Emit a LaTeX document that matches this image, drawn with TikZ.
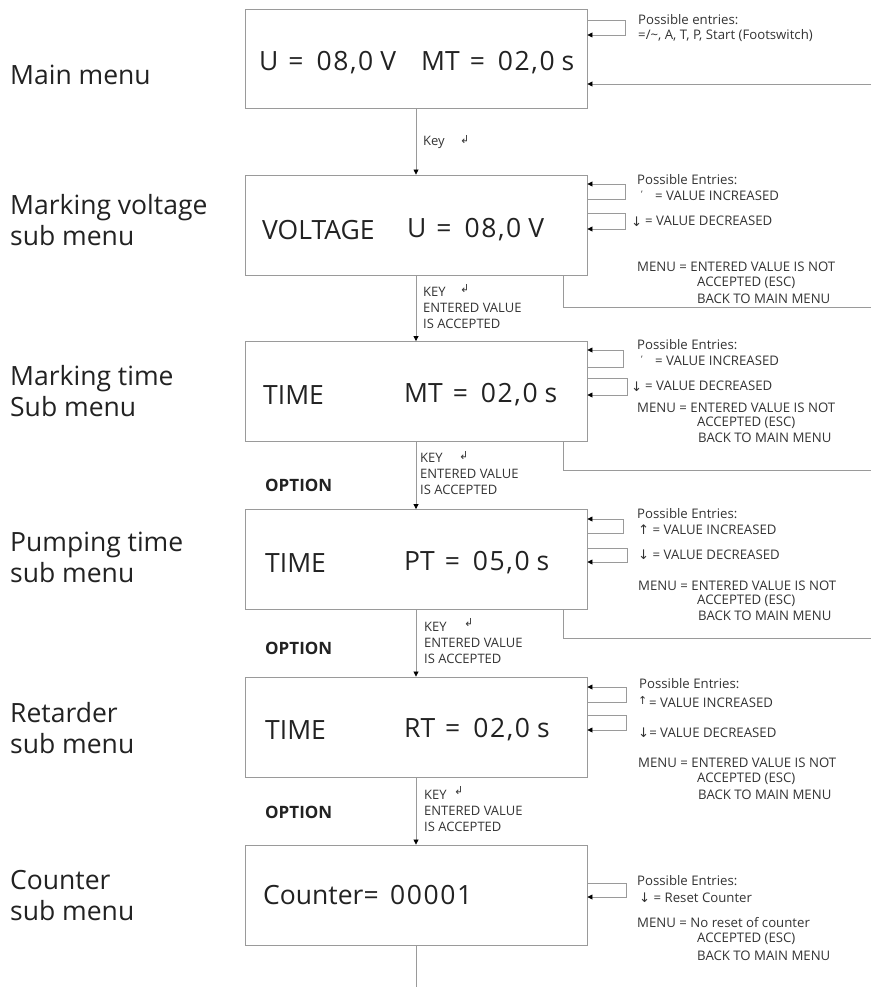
\documentclass[tikz,border=0pt]{standalone}
\usepackage{fontspec}
\setmainfont{Open Sans}
\newfontfamily\symfont{DejaVu Sans}
\usetikzlibrary{arrows.meta}
\definecolor{linegray}{HTML}{9A9A9A}
\definecolor{txt}{HTML}{222222}
\definecolor{smalltxt}{HTML}{333333}
\newcommand{\retkey}{{\symfont\fontsize{11}{11}\selectfont ↲}}
\newcommand{\up}{{\symfont ↑}}
\newcommand{\down}{{\symfont ↓}}
% display readout: name = value unit
\newcommand{\digits}[1]{{\addfontfeature{LetterSpace=6}#1}}
\newcommand{\readout}[3]{#1\hspace{10pt}=\hspace{13pt}\digits{#2}\hspace{7pt}#3}

\begin{document}
\begin{tikzpicture}[x=1pt,y=-1pt,
  box/.style={draw=linegray,line width=0.9pt,minimum width=342pt,minimum height=100pt,inner sep=0pt},
  wire/.style={draw=linegray,line width=0.8pt},
  tip/.style={-{Triangle[length=5pt,width=5pt,color=black]}},
  big/.style={font={\fontsize{26.5}{30}\selectfont},text=txt,anchor=west,inner sep=0pt},
  side/.style={font={\fontsize{26.5}{31}\selectfont},text=txt,anchor=west,align=left,inner sep=0pt},
  note/.style={font={\fontsize{13.2}{15}\selectfont},text=smalltxt,anchor=west,inner sep=0pt},
  tick/.style={font={\fontsize{9}{9}\selectfont},text=smalltxt,anchor=west,inner sep=0pt},
  keylab/.style={font={\fontsize{13}{16}\selectfont},text=smalltxt,anchor=west,align=left,inner sep=0pt},
  opt/.style={font={\bfseries\fontsize{17}{20}\selectfont},text=txt,anchor=west,inner sep=0pt}]

\useasboundingbox (0,0) rectangle (871,987);

% ---------- menu boxes ----------
\node[box,minimum height=99pt] (b1) at (416,58.5) {};
\node[box] (b2) at (416,225) {};
\node[box] (b3) at (416,391.5) {};
\node[box] (b4) at (416,559.5) {};
\node[box] (b5) at (416,727) {};
\node[box] (b6) at (416,895) {};

% ---------- display contents ----------
\node[big] (u1)  at (259,63)  {\readout{U}{08,0}{V}};
\node[big] (mt1) at (421,63)  {\readout{MT}{02,0}{s}};
\node[big] (v2)  at (262,230) {VOLTAGE};
\node[big] (u2)  at (407,230) {\readout{U}{08,0}{V}};
\node[big] (t3)  at (263,395) {TIME};
\node[big] (mt3) at (404,395) {\readout{MT}{02,0}{s}};
\node[big] (t4)  at (265,563) {TIME};
\node[big] (pt4) at (404,563) {\readout{PT}{05,0}{s}};
\node[big] (t5)  at (265,730) {TIME};
\node[big] (rt5) at (404,730) {\readout{RT}{02,0}{s}};
\node[big] (c6)  at (263,895) {Counter=};
\node[big] (n6)  at (390,895) {\digits{00001}};

% ---------- menu names ----------
\node[side] (s1) at (10,75)  {Main menu};
\node[side] (s2) at (10,220) {Marking voltage\\sub menu};
\node[side] (s3) at (10,391) {Marking time\\Sub menu};
\node[side] (s4) at (10,557) {Pumping time\\sub menu};
\node[side] (s5) at (10,728) {Retarder\\sub menu};
\node[side] (s6) at (10,896) {Counter\\sub menu};

% ---------- main flow ----------
\draw[wire,tip] (b1.south) -- (b2.north);
\draw[wire,tip] (b2.south) -- (b3.north);
\draw[wire,tip] (b3.south) -- (b4.north);
\draw[wire,tip] (b4.south) -- (b5.north);
\draw[wire,tip] (b5.south) -- (b6.north);
\coordinate (out6) at (416,987);
\draw[wire] (b6.south) -- (out6);

% key labels on the flow
\node[keylab] (k1) at (423,142) {Key};
\node[keylab] (k1s) at (460,140) {\retkey};
\node[keylab] (k2) at (423,308) {KEY\\ENTERED VALUE\\IS ACCEPTED};
\node[keylab] (k2s) at (460,289) {\retkey};
\node[keylab] (k3) at (420,474) {KEY\\ENTERED VALUE\\IS ACCEPTED};
\node[keylab] (k3s) at (459,456) {\retkey};
\node[keylab] (k4) at (424,643) {KEY\\ENTERED VALUE\\IS ACCEPTED};
\node[keylab] (k4s) at (464,623) {\retkey};
\node[keylab] (k5) at (424,811) {KEY\\ENTERED VALUE\\IS ACCEPTED};
\node[keylab] (k5s) at (454,791) {\retkey};

\node[opt] (o3) at (265,485) {OPTION};
\node[opt] (o4) at (265,648) {OPTION};
\node[opt] (o5) at (265,812) {OPTION};

% ---------- main menu inputs ----------
\draw[wire,tip] (b1.east |- 0,20) -- (625,20) -- (625,35) -- (b1.east |- 0,35);
\coordinate (in1) at (871,84);
\draw[wire,tip] (in1) -- (b1.east |- in1);
\node[note] (e1a) at (638,20) {Possible entries:};
\node[note] (e1b) at (638,36) {=/\textasciitilde, A, T, P, Start (Footswitch)};

% ---------- marking voltage inputs ----------
\draw[wire,tip] (b2.east |- 0,199) -- (625,199) -- (625,184) -- (b2.east |- 0,184);
\draw[wire,tip] (b2.east |- 0,213) -- (625,213) -- (625,229) -- (b2.east |- 0,229);
\coordinate (r2) at (871,307);
\draw[wire] (563,0 |- b2.south) -- (563,307) -- (r2);
\node[note] (e2a) at (637,180) {Possible Entries:};
\node[tick] (e2t) at (641,194) {'};
\node[note] (e2b) at (655,196) {= VALUE INCREASED};
\node[note] (e2d) at (631,222) {\down};
\node[note] (e2c) at (645,221) {= VALUE DECREASED};
\node[note] (e2e) at (637,267) {MENU = ENTERED VALUE IS NOT};
\node[note] (e2f) at (697,283) {ACCEPTED (ESC)};
\node[note] (e2g) at (697,299) {BACK TO MAIN MENU};

% ---------- marking time inputs ----------
\draw[wire,tip] (b3.east |- 0,367) -- (623,367) -- (623,350) -- (b3.east |- 0,350);
\draw[wire,tip] (b3.east |- 0,378) -- (627,378) -- (627,395) -- (b3.east |- 0,395);
\coordinate (r3) at (871,470);
\draw[wire] (563,0 |- b3.south) -- (563,470) -- (r3);
\node[note] (e3a) at (637,345) {Possible Entries:};
\node[tick] (e3t) at (641,359) {'};
\node[note] (e3b) at (655,361) {= VALUE INCREASED};
\node[note] (e3d) at (631,387) {\down};
\node[note] (e3c) at (645,386) {= VALUE DECREASED};
\node[note] (e3e) at (637,408) {MENU = ENTERED VALUE IS NOT};
\node[note] (e3f) at (697,423) {ACCEPTED (ESC)};
\node[note] (e3g) at (698,438) {BACK TO MAIN MENU};

% ---------- pumping time inputs ----------
\draw[wire,tip] (b4.east |- 0,533) -- (623,533) -- (623,519) -- (b4.east |- 0,519);
\draw[wire,tip] (b4.east |- 0,548) -- (627,548) -- (627,562) -- (b4.east |- 0,562);
\coordinate (r4) at (871,638);
\draw[wire] (563,0 |- b4.south) -- (563,638) -- (r4);
\node[note] (e4a) at (637,514) {Possible Entries:};
\node[note] (e4b) at (638,530) {\up{} = VALUE INCREASED};
\node[note] (e4c) at (638,555) {\down{} = VALUE DECREASED};
\node[note] (e4e) at (638,586) {MENU = ENTERED VALUE IS NOT};
\node[note] (e4f) at (697,601) {ACCEPTED (ESC)};
\node[note] (e4g) at (698,616) {BACK TO MAIN MENU};

% ---------- retarder inputs ----------
\draw[wire,tip] (b5.east |- 0,702) -- (626,702) -- (626,687) -- (b5.east |- 0,687);
\draw[wire,tip] (b5.east |- 0,715) -- (626,715) -- (626,730) -- (b5.east |- 0,730);
\node[note] (e5a) at (639,684) {Possible Entries:};
\node[note,font={\fontsize{11}{11}\selectfont}] (e5u) at (638,700) {\up};
\node[note] (e5b) at (649,703) {= VALUE INCREASED};
\node[note] (e5c) at (638,733) {\down{}= VALUE DECREASED};
\node[note] (e5e) at (638,763) {MENU = ENTERED VALUE IS NOT};
\node[note] (e5f) at (697,779) {ACCEPTED (ESC)};
\node[note] (e5g) at (698,795) {BACK TO MAIN MENU};

% ---------- counter inputs ----------
\draw[wire,tip] (b6.east |- 0,883) -- (626,883) -- (626,897) -- (b6.east |- 0,897);
\node[note] (e6a) at (637,881) {Possible Entries:};
\node[note] (e6b) at (639,898) {\down{} = Reset Counter};
\node[note] (e6e) at (637,923) {MENU = No reset of counter};
\node[note] (e6f) at (697,939) {ACCEPTED (ESC)};
\node[note] (e6g) at (697,956) {BACK TO MAIN MENU};
\end{tikzpicture}
\end{document}
